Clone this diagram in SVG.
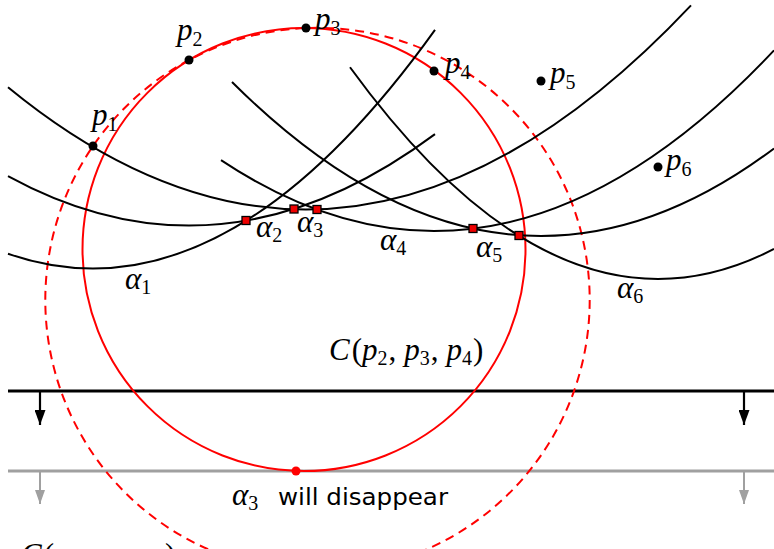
<svg xmlns="http://www.w3.org/2000/svg" width="774" height="549" viewBox="0 0 774 549">
<style>
.par{fill:none;stroke:#000;stroke-width:2}
.circ{fill:none;stroke:#ff0000;stroke-width:2}
.dash{fill:none;stroke:#ff0000;stroke-width:2;stroke-dasharray:9 6}
.site{fill:#000}
.bp{fill:#ee0000;stroke:#000;stroke-width:1.3}
.m{font-family:"Liberation Serif","Times New Roman",serif;font-size:31px;font-style:italic;fill:#000}
.u{font-style:normal}
.s{font-size:20px;font-style:normal}
.sans{font-family:"DejaVu Sans","Liberation Sans",sans-serif;font-size:23px;fill:#000}
</style>
<defs>
<marker id="ab" viewBox="0 0 15 11" refX="15" refY="5.5" markerWidth="15" markerHeight="11" markerUnits="userSpaceOnUse" orient="auto">
<path d="M0,0 L15,5.5 L0,11 Z" fill="#000"/>
</marker>
<marker id="ag" viewBox="0 0 14 10" refX="14" refY="5" markerWidth="14" markerHeight="10" markerUnits="userSpaceOnUse" orient="auto">
<path d="M0,0 L14,5 L0,10 Z" fill="#a0a0a0"/>
</marker>
</defs>
<rect width="774" height="549" fill="#fff"/>

<g id="sweep-lines">
<line x1="8" y1="391" x2="774" y2="391" stroke="#000" stroke-width="3"/>
<line x1="8" y1="471" x2="774" y2="471" stroke="#a0a0a0" stroke-width="3"/>
</g>
<g id="connectors">
<line x1="40" y1="391" x2="40" y2="425" stroke="#000" stroke-width="2.2" marker-end="url(#ab)"/>
<line x1="744" y1="391" x2="744" y2="425" stroke="#000" stroke-width="2.2" marker-end="url(#ab)"/>
<line x1="40" y1="471" x2="40" y2="504" stroke="#a0a0a0" stroke-width="2" marker-end="url(#ag)"/>
<line x1="744" y1="471" x2="744" y2="504" stroke="#a0a0a0" stroke-width="2" marker-end="url(#ag)"/>
</g>

<g id="circles">
<circle class="dash" cx="317.5" cy="300" r="272.2"/>
<circle class="circ" cx="304" cy="249.5" r="221.5"/>
</g>

<g id="parabolas">
<path id="alpha1" class="par" d="M8,253.76 Q221.5,327.83 435,29.8"/>
<path id="alpha2" class="par" d="M8,176.01 Q221.5,292.75 435,134.09"/>
<path id="alpha3" class="par" d="M8,87.18 Q349.5,367.53 691,5.33"/>
<path id="alpha4" class="par" d="M221,160.11 Q497.5,344.15 774,50.37"/>
<path id="alpha5" class="par" d="M232,82 Q503,352.13 774,148.44"/>
<path id="alpha6" class="par" d="M350,67.25 Q562,358.75 774,248.96"/>
</g>

<g id="breakpoints">
<rect class="bp" x="242" y="216.5" width="8" height="8"/>
<rect class="bp" x="290" y="205" width="8" height="8"/>
<rect class="bp" x="313" y="205.5" width="8" height="8"/>
<rect class="bp" x="469" y="224.5" width="8" height="8"/>
<rect class="bp" x="515" y="231.5" width="8" height="8"/>
</g>

<g id="sites">
<g id="p1"><circle class="site" cx="93" cy="146" r="4.5"/><text class="m" x="92" y="125">p<tspan class="s" dy="6">1</tspan></text></g>
<g id="p2"><circle class="site" cx="189" cy="60" r="4.5"/><text class="m" x="177" y="40">p<tspan class="s" dy="6">2</tspan></text></g>
<g id="p3"><circle class="site" cx="306" cy="28" r="4.5"/><text class="m" x="315" y="29">p<tspan class="s" dy="6">3</tspan></text></g>
<g id="p4"><circle class="site" cx="434" cy="71" r="4.5"/><text class="m" x="445" y="73">p<tspan class="s" dy="6">4</tspan></text></g>
<g id="p5"><circle class="site" cx="541" cy="81" r="4.5"/><text class="m" x="550" y="83">p<tspan class="s" dy="6">5</tspan></text></g>
<g id="p6"><circle class="site" cx="658" cy="167" r="4.5"/><text class="m" x="666" y="170">p<tspan class="s" dy="6">6</tspan></text></g>
</g>

<g id="arc-labels">
<text class="m" x="125" y="289">α<tspan class="s" dy="5">1</tspan></text>
<text class="m" x="256" y="237">α<tspan class="s" dy="5">2</tspan></text>
<text class="m" x="297" y="232">α<tspan class="s" dy="5">3</tspan></text>
<text class="m" x="380" y="250">α<tspan class="s" dy="5">4</tspan></text>
<text class="m" x="476" y="257">α<tspan class="s" dy="5">5</tspan></text>
<text class="m" x="617" y="298">α<tspan class="s" dy="5">6</tspan></text>
</g>

<g id="circle-labels">
<text class="m" x="329" y="360">C<tspan class="u" dx="2">(</tspan>p<tspan class="s" dy="5">2</tspan><tspan class="u" dy="-5" dx="1">,</tspan><tspan dx="8">p</tspan><tspan class="s" dy="5">3</tspan><tspan class="u" dy="-5" dx="1">,</tspan><tspan dx="8">p</tspan><tspan class="s" dy="5">4</tspan><tspan class="u" dy="-5" dx="1">)</tspan></text>
<text class="m" x="21" y="565">C<tspan class="u" dx="2">(</tspan>p<tspan class="s" dy="5">1</tspan><tspan class="u" dy="-5" dx="1">,</tspan><tspan dx="8">p</tspan><tspan class="s" dy="5">2</tspan><tspan class="u" dy="-5" dx="1">,</tspan><tspan dx="8">p</tspan><tspan class="s" dy="5">3</tspan><tspan class="u" dy="-5" dx="1">)</tspan></text>
</g>

<g id="event">
<circle cx="296" cy="471" r="4.5" fill="#ff0000"/>
<text class="m" x="232" y="505">α<tspan class="s" dy="5">3</tspan></text>
<text class="sans" x="278" y="505" textLength="170" lengthAdjust="spacingAndGlyphs">will disappear</text>
</g>
</svg>
